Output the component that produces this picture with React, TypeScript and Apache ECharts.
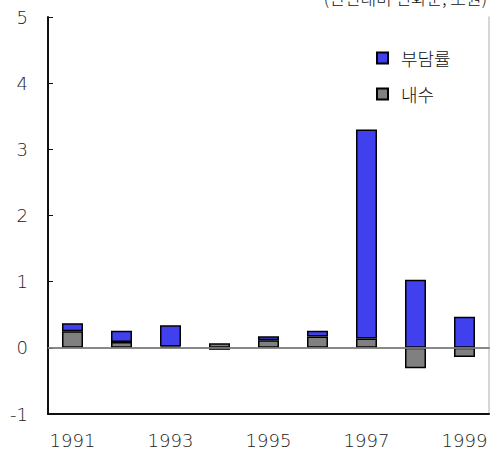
import React, { useEffect, useRef } from "react";
import * as echarts from "echarts";

const years = ["1991", "1992", "1993", "1994", "1995", "1996", "1997", "1998", "1999"];
const domestic = [0.25, 0.09, 0.02, 0.07, 0.115, 0.17, 0.14, -0.31, -0.14];
const burden = [0.12, 0.17, 0.32, -0.03, 0.06, 0.09, 3.16, 1.03, 0.47];
const yTicks = [-1, 0, 1, 2, 3, 4, 5];
const unitLabel = "(전년대비 변화분, 조원)";

const FONT = "'Noto Sans CJK KR', 'Noto Sans', sans-serif";
const NUM_FONT = "'DejaVu Sans', 'Noto Sans CJK KR', sans-serif";

export default function App() {
  const ref = useRef<HTMLDivElement>(null);
  useEffect(() => {
    if (!ref.current) return;
    const chart = echarts.init(ref.current, null, { renderer: "svg" });
    chart.setOption({
      animation: false,
      textStyle: { fontFamily: FONT },
      grid: { left: 48, right: 2, top: 17, bottom: 41 },
      legend: {
        orient: "vertical",
        left: 371,
        top: 44,
        itemGap: 18,
        itemWidth: 11,
        itemHeight: 11,
        icon: "rect",
        data: ["부담률", "내수"],
        textStyle: { fontSize: 18, fontWeight: 300, color: "#111", fontFamily: FONT, padding: [0, 0, 0, 8] },
      },
      graphic: [
        {
          type: "text",
          right: 4,
          top: -11,
          style: { text: unitLabel, fontSize: 17, fontWeight: 300, fill: "#111", fontFamily: FONT },
        },
      ],
      xAxis: [
        {
          type: "category",
          data: years,
          axisLine: { onZero: false, lineStyle: { color: "#111", width: 2 } },
          axisTick: { show: false },
          axisLabel: {
            interval: 1,
            fontSize: 18,
            fontWeight: 300,
            color: "#1a1a1a",
            margin: 17,
            fontFamily: NUM_FONT,
          },
        },
        {
          type: "category",
          position: "top",
          data: years,
          axisLine: { lineStyle: { color: "#444", width: 1.5 } },
          axisTick: { show: false },
          axisLabel: { show: false },
        },
      ],
      yAxis: [
        {
          type: "value",
          min: -1,
          max: 5,
          interval: 1,
          axisLine: { show: true, lineStyle: { color: "#111", width: 2 } },
          axisTick: { show: true, inside: true, length: 5, lineStyle: { color: "#111" } },
          splitLine: { show: false },
          axisLabel: {
            fontSize: 18,
            fontWeight: 300,
            color: "#1a1a1a",
            margin: 20,
            fontFamily: NUM_FONT,
            formatter: (v: number) => (yTicks.includes(v) ? String(v) : ""),
          },
        },
        {
          type: "value",
          position: "right",
          min: -1,
          max: 5,
          interval: 1,
          axisLine: { show: true, lineStyle: { color: "#c8c8c8", width: 1.5 } },
          axisTick: { show: false },
          axisLabel: { show: false },
          splitLine: { show: false },
        },
      ],
      series: [
        {
          name: "내수",
          type: "bar",
          stack: "total",
          data: domestic,
          barWidth: 21,
          itemStyle: { color: "#808080", borderColor: "#000", borderWidth: 1.5 },
          markLine: {
            silent: true,
            symbol: "none",
            label: { show: false },
            lineStyle: { color: "#909090", type: "solid", width: 1.5 },
            data: [{ yAxis: 0 }],
          },
        },
        {
          name: "부담률",
          type: "bar",
          stack: "total",
          data: burden,
          barWidth: 21,
          itemStyle: { color: "#4040ee", borderColor: "#000", borderWidth: 1.5 },
        },
      ],
    });
    return () => chart.dispose();
  }, []);
  return <div ref={ref} style={{ width: 491, height: 455, position: "absolute", left: 0, top: 0 }} />;
}
